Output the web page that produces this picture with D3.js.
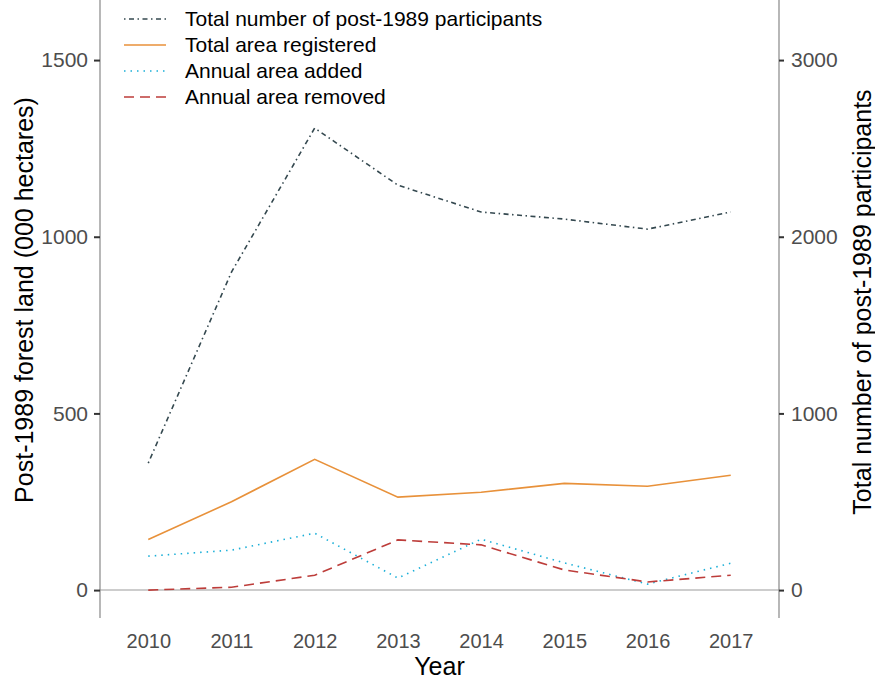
<!DOCTYPE html>
<html><head><meta charset="utf-8">
<script src="https://cdn.jsdelivr.net/npm/d3@7"></script>
<style>body{margin:0;background:#fff}svg{display:block;font-family:"Liberation Sans",Arial,sans-serif}</style>
</head><body>
<svg id="c" width="875" height="681"></svg>
<script>
const years = [2010, 2011, 2012, 2013, 2014, 2015, 2016, 2017];
const participants = [719, 1800, 2615, 2292, 2140, 2100, 2043, 2140];
const totalArea = [143, 250, 370, 263, 277, 302, 294, 325];
const areaAdded = [96, 113, 161, 34, 144, 77, 17, 76];
const areaRemoved = [0, 8, 42, 142, 128, 57, 23, 42];
const leftTicks = [0, 500, 1000, 1500];
const rightTicks = [0, 1000, 2000, 3000];

const FF = "Liberation Sans, Arial, sans-serif";
const svg = d3.select("#c");
const L = 100, R = 779, T = 0, B = 618;
const x = d3.scaleLinear().domain([2009.42, 2017.58]).range([L, R]);
const y = d3.scaleLinear().domain([-79, 1670]).range([B, T]);
const y2 = d3.scaleLinear().domain([-158, 3340]).range([B, T]);

// zero line
svg.append("line").attr("x1", L).attr("x2", R).attr("y1", y(0)).attr("y2", y(0))
  .attr("stroke", "#bdbdbd").attr("stroke-width", 1.5);

// left axis
const gl = svg.append("g").attr("transform", `translate(${L},0)`)
  .call(d3.axisLeft(y).tickValues(leftTicks).tickSize(6).tickPadding(6).tickFormat(d3.format("d")));
gl.select(".domain").attr("stroke", "#888").attr("stroke-width", 1.2).attr("d", `M0,${T}V${B}`);
gl.selectAll(".tick line").attr("stroke", "#333").attr("stroke-width", 2);
gl.selectAll(".tick text").attr("fill", "#4d4d4d").attr("font-size", 21).attr("font-family", FF);

// right axis
const gr = svg.append("g").attr("transform", `translate(${R},0)`)
  .call(d3.axisRight(y2).tickValues(rightTicks).tickSize(5).tickPadding(7).tickFormat(d3.format("d")));
gr.select(".domain").attr("stroke", "#888").attr("stroke-width", 1.2).attr("d", `M0,${T}V${B}`);
gr.selectAll(".tick line").attr("stroke", "#333").attr("stroke-width", 2);
gr.selectAll(".tick text").attr("fill", "#4d4d4d").attr("font-size", 21).attr("font-family", FF);

// bottom axis (labels only)
const gb = svg.append("g").attr("transform", `translate(0,${B})`)
  .call(d3.axisBottom(x).tickValues(years).tickSize(0).tickPadding(16).tickFormat(d3.format("d")));
gb.select(".domain").remove();
gb.selectAll(".tick text").attr("fill", "#4d4d4d").attr("font-size", 20).attr("font-family", FF);

// titles
svg.append("text").attr("x", (L + R) / 2).attr("y", 675).attr("text-anchor", "middle")
  .attr("font-size", 25).attr("fill", "#000").text("Year");
svg.append("text").attr("transform", `translate(33,300) rotate(-90)`)
  .attr("text-anchor", "middle").attr("font-size", 25).attr("fill", "#000")
  .text("Post-1989 forest land (000 hectares)");
svg.append("text").attr("transform", `translate(871,302) rotate(-90)`)
  .attr("text-anchor", "middle").attr("font-size", 25).attr("fill", "#000")
  .text("Total number of post-1989 participants");

const series = [
  {name: "Total number of post-1989 participants", vals: participants, scale: y2, color: "#34484f", dash: "1.5,3.5,5,3.5"},
  {name: "Total area registered", vals: totalArea, scale: y, color: "#e8913a", dash: null},
  {name: "Annual area added", vals: areaAdded, scale: y, color: "#1aafd8", dash: "1.5,5"},
  {name: "Annual area removed", vals: areaRemoved, scale: y, color: "#bd3d3a", dash: "10,6"}
];

series.forEach(s => {
  const line = d3.line().x((d, i) => x(years[i])).y(d => s.scale(d));
  svg.append("path").datum(s.vals).attr("d", line).attr("fill", "none")
    .attr("stroke", s.color).attr("stroke-width", 1.6)
    .attr("stroke-dasharray", s.dash);
});

// legend
const lg = svg.append("g");
series.forEach((s, i) => {
  const yy = 19 + i * 26;
  lg.append("line").attr("x1", 124).attr("x2", 166).attr("y1", yy).attr("y2", yy)
    .attr("stroke", s.color).attr("stroke-width", 1.6).attr("stroke-dasharray", s.dash);
  lg.append("text").attr("x", 185).attr("y", yy).attr("dy", "0.35em")
    .attr("font-size", 21).attr("fill", "#000").attr("font-family", FF).text(s.name);
});
</script>
</body></html>
